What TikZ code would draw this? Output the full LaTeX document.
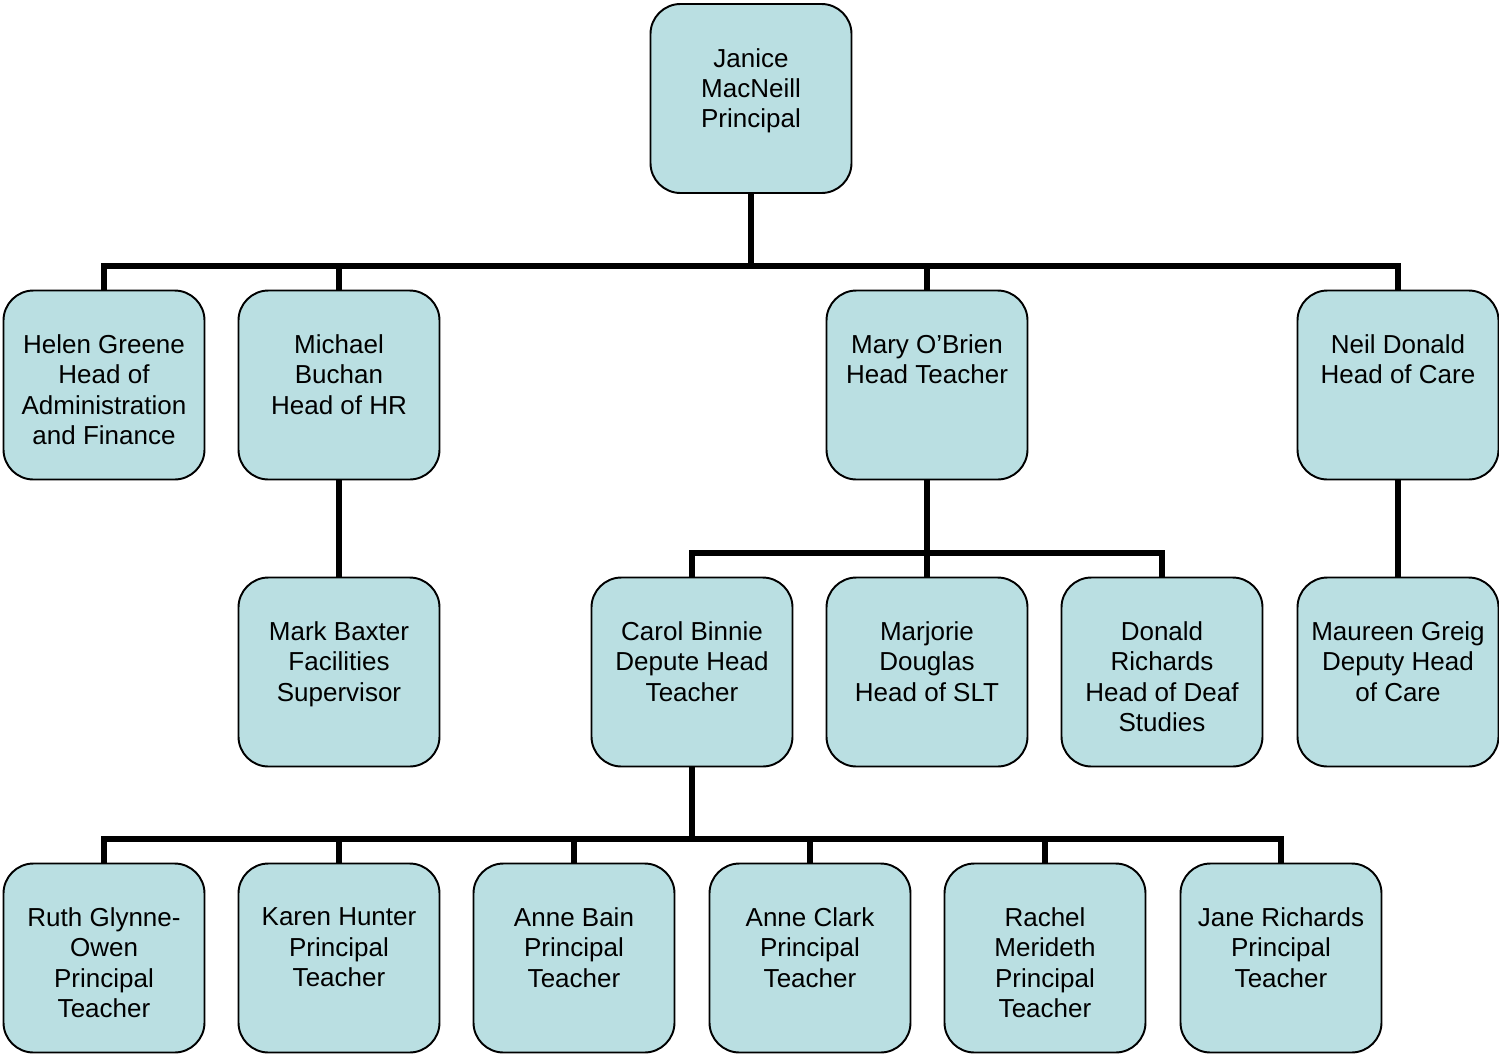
\documentclass[tikz,border=0pt]{standalone}
\usepackage{fontspec}
\setmainfont{Liberation Sans}
\usepackage{xcolor}
\usepackage{tikz}
\usetikzlibrary{positioning}
\definecolor{boxfill}{RGB}{186,223,226}

\begin{document}
\begin{tikzpicture}[
  staffbox/.style={draw, line width=1.1pt, fill=boxfill, rounded corners=0.6cm,
    minimum width=4.02cm, minimum height=3.78cm, inner sep=0pt,
    label={[align=center, anchor=north, inner sep=0pt, yshift=-0.9cm,
      font=\fontsize{14.8}{17.2}\selectfont]north:#1}},
  link/.style={line width=3.2pt}
]
\useasboundingbox (0,0) rectangle (29.98,-21.12);

% Principal
\node[staffbox={Janice\\MacNeill\\Principal}] (janice) at (15.02,-1.97) {};

% Heads
\node[staffbox={Helen Greene\\Head of\\Administration\\and Finance}] (helen) at (2.08,-7.7) {};
\node[staffbox={Michael\\Buchan\\Head of HR}] (michael) at (6.78,-7.7) {};
\node[staffbox={Mary O'Brien\\Head Teacher}] (mary) at (18.54,-7.7) {};
\node[staffbox={Neil Donald\\Head of Care}] (neil) at (27.96,-7.7) {};

% Second level
\node[staffbox={Mark Baxter\\Facilities\\Supervisor}] (mark) at (6.78,-13.44) {};
\node[staffbox={Carol Binnie\\Depute Head\\Teacher}] (carol) at (13.84,-13.44) {};
\node[staffbox={Marjorie\\Douglas\\Head of SLT}] (marjorie) at (18.54,-13.44) {};
\node[staffbox={Donald\\Richards\\Head of Deaf\\Studies}] (donald) at (23.24,-13.44) {};
\node[staffbox={Maureen Greig\\Deputy Head\\of Care}] (maureen) at (27.96,-13.44) {};

% Principal teachers
\node[staffbox={Ruth Glynne-\\Owen\\Principal\\Teacher}] (ruth) at (2.08,-19.16) {};
\node[staffbox={Karen Hunter\\Principal\\Teacher}] (karen) at (6.78,-19.16) {};
\node[staffbox={Anne Bain\\Principal\\Teacher}] (bain) at (11.48,-19.16) {};
\node[staffbox={Anne Clark\\Principal\\Teacher}] (clark) at (16.2,-19.16) {};
\node[staffbox={Rachel\\Merideth\\Principal\\Teacher}] (rachel) at (20.9,-19.16) {};
\node[staffbox={Jane Richards\\Principal\\Teacher}] (jane) at (25.62,-19.16) {};

% Connectors
\coordinate (bustop) at (15.02,-5.32);
\coordinate (busmary) at (18.54,-11.06);
\coordinate (buscarol) at (13.84,-16.78);

\draw[link] (janice.south) -- (bustop);
\foreach \n in {helen,michael,mary,neil}
  \draw[link] (bustop) -| (\n.north);

\draw[link] (michael.south) -- (mark.north);
\draw[link] (neil.south) -- (maureen.north);

\draw[link] (mary.south) -- (busmary);
\foreach \n in {carol,marjorie,donald}
  \draw[link] (busmary) -| (\n.north);

\draw[link] (carol.south) -- (buscarol);
\foreach \n in {ruth,karen,bain,clark,rachel,jane}
  \draw[link] (buscarol) -| (\n.north);
\end{tikzpicture}
\end{document}
